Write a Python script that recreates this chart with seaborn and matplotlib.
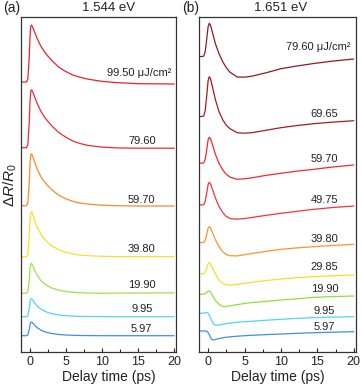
import matplotlib

matplotlib.use("Agg")
import matplotlib.pyplot as plt
import numpy as np
import seaborn as sns
from matplotlib.ticker import MultipleLocator

# ---- data: panel (a), 1.544 eV probe (dR/R0, a.u., baseline removed) ----
time_a = [-1.2, -0.5, -0.3, -0.1, 0.0, 0.1, 0.2, 0.35, 0.5, 0.75, 1.0, 1.5,
          2.0, 2.5, 3.0, 4.0, 5.0, 6.0, 7.0, 8.0, 10.0, 12.0, 15.0, 20.0]
fluence_a = ["99.50", "79.60", "59.70", "39.80", "19.90", "9.95", "5.97"]
trace_a_9950 = [0, 0, 2.9, 25.7, 45.6, 55.3, 57.0, 55.3, 52.4, 47.9, 43.3, 35.9,
                30.2, 25.7, 21.7, 14.8, 10.3, 6.8, 4.6, 2.9, 0.6, -0.6, -1.7, -2.0]
trace_a_7960 = [0, 0, 2.9, 26.1, 46.4, 56.3, 58.0, 56.3, 53.4, 48.7, 44.1, 36.5,
                30.7, 26.1, 22.0, 15.1, 10.4, 6.4, 4.1, 2.3, 0.6, -0.2, -0.5, -0.5]
trace_a_5970 = [0, 0, 2.6, 23.4, 42.6, 50.4, 52.0, 49.9, 46.8, 41.6, 36.4, 29.1,
                23.9, 19.8, 16.1, 10.4, 6.8, 4.2, 2.6, 1.6, 0.5, 0.0, -0.3, -0.3]
trace_a_3980 = [0, 0, 2.2, 20.2, 36.9, 43.6, 45.0, 42.8, 39.6, 34.2, 29.3, 22.5,
                17.6, 13.9, 11.0, 6.8, 4.3, 2.7, 1.6, 1.0, 0.4, 0.1, 0.0, 0.0]
trace_a_1990 = [0, 0, 1.5, 13.5, 24.6, 29.1, 30.0, 28.2, 25.5, 21.6, 18.0, 12.9,
                9.6, 7.2, 5.4, 3.0, 1.8, 1.0, 0.6, 0.3, 0.0, 0.2, 0.3, 0.4]
trace_a_0995 = [0, 0, 0.9, 8.1, 14.8, 17.5, 18.0, 16.9, 15.3, 12.8, 10.6, 7.6,
                5.6, 4.1, 3.1, 1.7, 1.0, 0.6, 0.3, 0.2, 0.1, 0.0, 0.0, 0.0]
trace_a_0597 = [0, 0, 0.7, 6.2, 11.2, 13.3, 13.7, 12.9, 11.6, 9.7, 8.0, 5.6,
                4.1, 3.0, 2.2, 1.2, 0.7, 0.4, 0.2, 0.1, 0.0, 0.0, 0.0, 0.0]

# ---- data: panel (b), 1.651 eV probe ----
time_b = [-1.2, -0.6, -0.4, -0.2, 0.0, 0.15, 0.3, 0.5, 0.75, 1.0, 1.5, 2.0,
          2.5, 3.0, 4.0, 5.0, 6.0, 8.0, 10.0, 12.0, 14.5, 17.0, 20.0]
fluence_b = ["79.60", "69.65", "59.70", "49.75", "39.80", "29.85", "19.90", "9.95", "5.97"]
trace_b_7960 = [0, 0.5, 5, 17, 30, 33.4, 32, 27, 20, 13, 3, -5,
                -11, -15.5, -20.3, -20.5, -19.5, -16, -12, -9.5, -6.8, -4.5, -2.3]
trace_b_6965 = [0, 0.6, 6, 20, 36, 40, 38.5, 33, 25, 17, 5, -3,
                -8.5, -12, -16, -16.5, -16, -13.5, -11, -9, -7, -5.5, -4]
trace_b_5970 = [0, 0.4, 4, 13, 23.5, 26, 25, 21, 15, 9, 0, -6.5,
                -11, -13.8, -16, -15.5, -14.5, -12, -10, -8, -6, -3.8, -1.7]
trace_b_4975 = [0, 0.3, 3.5, 11.5, 20.5, 22.7, 21.5, 18, 12.5, 7, -1.5, -7.5,
                -11.5, -13.5, -14.2, -13.5, -12.5, -10.3, -8.3, -6.5, -4.3, -2.6, -1]
trace_b_3980 = [0, 0.2, 2.5, 8, 14.5, 16, 15, 12, 7.5, 3, -4, -9,
                -11.8, -13, -13.2, -12, -10.8, -8.6, -6.6, -5.3, -4, -2.8, -1.6]
trace_b_2985 = [0, 0.2, 1.8, 5.8, 10.2, 11.3, 10.3, 7.5, 3.5, 0, -6, -9.5,
                -10.8, -11, -10.3, -9.3, -8.3, -6.5, -5, -3.8, -2.7, -1.8, -1]
trace_b_1990 = [0, 0.1, 0.7, 2, 3.1, 3.3, 2.5, 0.3, -3, -6, -10, -12.3,
                -12.2, -11.6, -10.3, -9.2, -8.3, -7, -5.7, -4.6, -3, -2.3, -1.7]
trace_b_0995 = [0, 0.2, 0.6, 0.8, 0.2, -1.5, -4, -7.5, -10.5, -12, -11.8, -11,
                -10.4, -9.8, -9, -8.4, -7.9, -6.9, -6, -5.2, -4.3, -3.8, -3.4]
trace_b_0597 = [0, 0, 0, -0.3, -1.5, -3.5, -6, -8.3, -9, -8.6, -7.5, -6.8,
                -6.2, -5.8, -5.2, -4.7, -4.3, -3.6, -3, -2.4, -1.7, -1.2, -0.7]

traces_a = [trace_a_9950, trace_a_7960, trace_a_5970, trace_a_3980,
            trace_a_1990, trace_a_0995, trace_a_0597]
traces_b = [trace_b_7960, trace_b_6965, trace_b_5970, trace_b_4975, trace_b_3980,
            trace_b_2985, trace_b_1990, trace_b_0995, trace_b_0597]

# styling / layout
colors_a = ["#e8232a", "#ee2b2d", "#f58a32", "#f4e02c", "#9fe04c", "#52d4f2", "#3f8fe6"]
colors_b = ["#8e1b1f", "#a31c20", "#ee2a2c", "#f0353a", "#f7952e", "#f3df2a",
            "#93dc3c", "#4fd6f2", "#3e8fe6"]
offsets_a = [269.5, 203.8, 145.8, 94.8, 58.2, 34.8, 15.8]
offsets_b = [294.8, 234.8, 188.2, 146.5, 108.8, 77.5, 57.2, 38.2, 20.5]
label_y_a = [278.5, 210.5, 151.5, 102.5, 66.5, 42.5, 22.5]
label_y_b = [304.5, 237.5, 193.0, 151.5, 113.0, 84.5, 62.5, 40.5, 24.5]

sns.set_style("ticks")
plt.rcParams["font.family"] = ["Liberation Sans", "DejaVu Sans"]
plt.rcParams["mathtext.fontset"] = "custom"
plt.rcParams["mathtext.rm"] = "Liberation Sans"
plt.rcParams["mathtext.it"] = "Liberation Sans:italic"

W, H = 362, 390
fig = plt.figure(figsize=(W / 100, H / 100), dpi=100)


def frac(x0, y0, x1, y1):
    return [x0 / W, 1 - y1 / H, (x1 - x0) / W, (y1 - y0) / H]


ax_a = fig.add_axes(frac(21, 17, 176, 351.5))
ax_b = fig.add_axes(frac(199, 17, 355.6, 351.5))

text_color = "#222222"
for ax, t, traces, offs, cols in [
    (ax_a, time_a, traces_a, offsets_a, colors_a),
    (ax_b, time_b, traces_b, offsets_b, colors_b),
]:
    for vals, off, c in zip(traces, offs, cols):
        sns.lineplot(x=t, y=np.asarray(vals) + off, ax=ax, color=c, lw=0.9,
                     sort=False, estimator=None)
    ax.set_xlim(-1.25, 20.25)
    ax.set_ylim(0, 334.5)
    ax.set_yticks([])
    ax.xaxis.set_major_locator(MultipleLocator(5))
    ax.xaxis.set_minor_locator(MultipleLocator(2.5))
    ax.tick_params(axis="x", which="major", direction="in", length=3, width=0.8,
                   labelsize=9, pad=3, colors=text_color)
    ax.tick_params(axis="x", which="minor", direction="in", length=2, width=0.8)
    ax.set_xlabel("")
    ax.set_ylabel("")
    for s in ax.spines.values():
        s.set_linewidth(0.9)
        s.set_color("#333333")

# trace labels
for i, (fl, y) in enumerate(zip(fluence_a, label_y_a)):
    if i == 0:
        ax_a.text(10.7, y, f"{fl} μJ/cm²", fontsize=8, color=text_color,
                  ha="left", va="center")
    else:
        ax_a.text(15.5, y, fl, fontsize=8, color=text_color, ha="center", va="center")
for i, (fl, y) in enumerate(zip(fluence_b, label_y_b)):
    if i == 0:
        ax_b.text(10.7, y, f"{fl} μJ/cm²", fontsize=8, color=text_color,
                  ha="left", va="center")
    else:
        ax_b.text(16.0, y, fl, fontsize=8, color=text_color, ha="center", va="center")


def ftext(x, y, s, **kw):
    fig.text(x / W, 1 - y / H, s, color=text_color, **kw)


ftext(11.5, 8, "(a)", fontsize=10, ha="center", va="center")
ftext(109, 8, "1.544 eV", fontsize=9.5, ha="center", va="center")
ftext(191, 8, "(b)", fontsize=10, ha="center", va="center")
ftext(281, 8, "1.651 eV", fontsize=9.5, ha="center", va="center")
ftext(10, 185, r"$\Delta R/R_0$", fontsize=11, ha="center", va="center", rotation=90)
ftext(108.5, 377, "Delay time (ps)", fontsize=10, ha="center", va="center")
ftext(277.5, 377, "Delay time (ps)", fontsize=10, ha="center", va="center")

fig.savefig("out.png", dpi=100)
